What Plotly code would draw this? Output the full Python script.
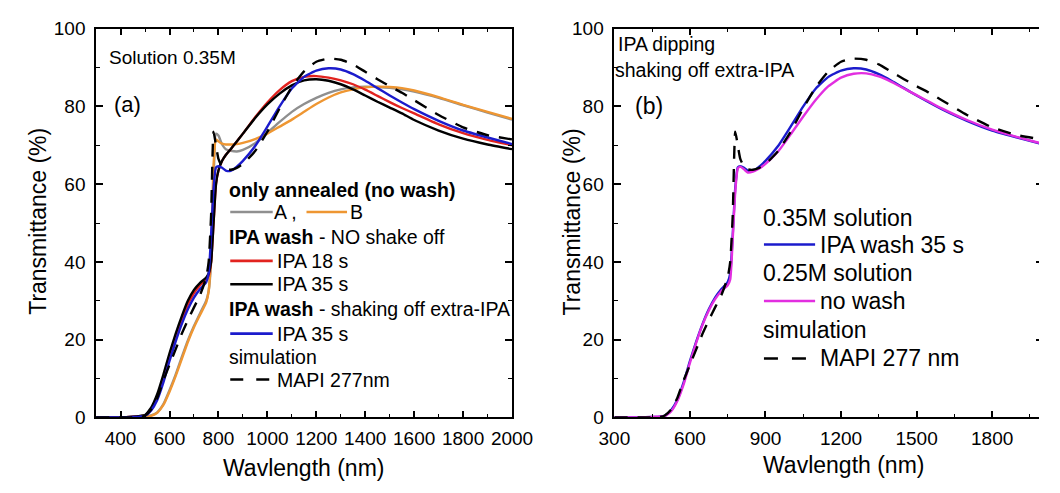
import plotly.graph_objects as go

# ---------------- data ----------------
wavelength = [300, 400, 450, 480, 500, 525, 550, 575, 600, 625, 650, 675, 700, 725, 750,
              760, 770, 780, 790, 800, 815, 830, 850, 875, 900, 950, 1000, 1050, 1100,
              1150, 1200, 1250, 1300, 1350, 1400, 1450, 1500, 1550, 1600, 1700, 1800,
              1900, 2000]

annealed_A = [0, 0, 0, 0.1, 0.2, 0.5, 1.3, 3.4, 7, 11, 15.5, 19.8, 23.5, 26.8, 30,
              32.5, 40, 60, 73, 72.5, 70.2, 69, 68.6, 68.4, 68.8, 70.5, 73.2, 76, 78.6,
              80.6, 82.2, 83.5, 84.4, 84.9, 85.1, 85, 84.8, 84.4, 83.8, 82.2, 80.3,
              78.4, 76.6]

annealed_B = [0, 0, 0, 0, 0.1, 0.4, 1.2, 3.2, 6.6, 10.6, 15, 19.4, 23.2, 26.4, 29.6,
              32.5, 42, 65, 71.5, 71, 70.4, 70.2, 70.2, 70.3, 70.6, 71.6, 73, 74.8, 76.6,
              78.6, 80.6, 82.3, 83.6, 84.4, 84.9, 85.1, 85, 84.7, 84.1, 82.4, 80.4,
              78.6, 76.8]

ipa18_noshake = [0, 0, 0.2, 0.3, 0.5, 2, 5.2, 10, 15.5, 20.5, 25, 29, 32, 34, 35.6,
                 36.5, 40, 50, 60, 63.5, 66, 67.5, 69, 71, 73, 77.2, 81, 84.2, 86.5,
                 87.6, 87.8, 87.4, 86.7, 85.7, 84.3, 82.7, 81.1, 79.6, 78.2, 75.4, 73.1,
                 71.4, 70]

ipa35_noshake = [0, 0, 0.2, 0.4, 0.6, 2.5, 6, 11, 16.5, 21.5, 26, 30, 32.8, 34.6, 36,
                 37, 40, 50, 60, 63.5, 66, 67.5, 69, 71, 73, 77, 80.5, 83.3, 85.4,
                 86.7, 87, 86.6, 85.7, 84.4, 82.8, 81.2, 79.7, 78.2, 76.5, 73.8, 71.7,
                 70.2, 69]

ipa35_shake = [0, 0, 0.1, 0.2, 0.4, 1.8, 4.5, 9, 14.5, 19.5, 24, 27.8, 30.8, 33, 34.8,
               37, 47, 59, 64.3, 64.6, 64.2, 63.5, 63.4, 64.5, 66, 69.8, 74.8, 80, 84.6,
               87.6, 89.2, 89.8, 89.5, 88.3, 86.6, 84.7, 82.8, 81, 79.3, 76.3, 73.8,
               72, 70.3]

nowash_025M = [0, 0, 0.1, 0.2, 0.3, 1.5, 4.2, 8.5, 14, 19.2, 23.8, 27.5, 30.4, 32.5, 34,
               35.5, 46, 58, 64, 64.5, 63.8, 63, 63.2, 64, 65.2, 68.4, 72.8, 77.4, 81.7,
               85.2, 87.4, 88.4, 88.5, 87.7, 86.3, 84.6, 82.9, 81.2, 79.5, 76.5, 74,
               72.1, 70.4]

sim_mapi_277 = [0, 0, 0, 0.1, 0.5, 2, 5, 9.5, 13.5, 17.5, 21.5, 25, 28.3, 31.5, 36,
                40, 52, 73.5, 70, 66.5, 64.5, 63.8, 63.7, 64.2, 65.2, 68.5, 73.5, 79.5, 85,
                89, 91.5, 92.3, 92, 90.8, 88.9, 87, 85.2, 83.5, 81.6, 77.8, 74.6,
                72.6, 71.5]

x_ticks_a = [400, 600, 800, 1000, 1200, 1400, 1600, 1800, 2000]
x_ticks_b = [300, 600, 900, 1200, 1500, 1800]
y_ticks = [0, 20, 40, 60, 80, 100]

# ---------------- styles ----------------
W, H = 1060, 493
FONT = "Liberation Sans, Arial, sans-serif"
C_GRAY = "#8f8f8f"
C_ORANGE = "#ee9632"
C_RED = "#e2231f"
C_BLACK = "#000000"
C_BLUE = "#1b1bcc"
C_MAG = "#e22ee0"
LW = 2.4
DASH = "13px,10px"


def px(x):
    return x / W


def py(y):
    return 1 - y / H


fig = go.Figure()


def add(xa, ya, yvals, color, dash="solid"):
    fig.add_trace(go.Scatter(x=wavelength, y=yvals, xaxis=xa, yaxis=ya, mode="lines",
                             line=dict(color=color, width=LW, dash=dash, shape="spline",
                                       smoothing=0.5),
                             showlegend=False, hoverinfo="skip"))


# panel (a)
add("x", "y", annealed_A, C_GRAY)
add("x", "y", annealed_B, C_ORANGE)
add("x", "y", ipa18_noshake, C_RED)
add("x", "y", ipa35_noshake, C_BLACK)
add("x", "y", ipa35_shake, C_BLUE)
add("x", "y", sim_mapi_277, C_BLACK, DASH)
# panel (b)
add("x2", "y2", ipa35_shake, C_BLUE)
add("x2", "y2", nowash_025M, C_MAG)
add("x2", "y2", sim_mapi_277, C_BLACK, DASH)
# dummy for right-edge tick stubs of panel (b)
fig.add_trace(go.Scatter(x=[None], y=[None], xaxis="x2", yaxis="y3", showlegend=False,
                         hoverinfo="skip"))

ydom = [py(425.5), py(19.5)]
axis_common = dict(showline=True, linecolor="black", linewidth=1.6, ticks="inside",
                   ticklen=7, tickwidth=1.6, tickcolor="black", showgrid=False,
                   zeroline=False, tickfont=dict(family=FONT, size=19, color="black"))
minor = dict(ticks="inside", ticklen=4, tickwidth=1.4, tickcolor="black", showgrid=False)

fig.update_layout(
    width=W, height=H, margin=dict(l=0, r=0, t=0, b=0),
    paper_bgcolor="white", plot_bgcolor="white",
    xaxis=dict(domain=[px(83), px(514)], range=[300, 2000], tickvals=x_ticks_a,
               mirror="ticks", anchor="y", ticklabelstandoff=3,
               minor=dict(dtick=100, **minor), **axis_common),
    yaxis=dict(domain=ydom, range=[0, 100], tickvals=y_ticks, mirror="ticks",
               anchor="x", ticklabelstandoff=5,
               minor=dict(dtick=10, **minor), **axis_common),
    xaxis2=dict(domain=[px(620), 1.0], range=[300, 1986], tickvals=x_ticks_b,
                mirror="ticks", anchor="y2", ticklabelstandoff=3,
                minor=dict(dtick=150, **minor), **axis_common),
    yaxis2=dict(domain=ydom, range=[0, 100], tickvals=y_ticks, mirror=False,
                anchor="x2", ticklabelstandoff=5,
                minor=dict(dtick=10, **minor), **axis_common),
    yaxis3=dict(overlaying="y2", side="right", anchor="x2", range=[0, 100],
                tickvals=[20, 40, 60, 80], ticks="inside", ticklen=3, tickwidth=1.6,
                tickcolor="black", showticklabels=False, showline=False, showgrid=False,
                zeroline=False),
)

ann = []


def text(x, y, s, size=19, xanchor="left", angle=0):
    ann.append(dict(x=px(x), y=py(y), xref="paper", yref="paper", text=s,
                    showarrow=False, xanchor=xanchor, yanchor="middle", textangle=angle,
                    borderpad=0,
                    font=dict(family=FONT, size=size, color="black")))


def sample(x0, x1, y, color, dash="solid"):
    fig.add_shape(type="line", xref="paper", yref="paper", x0=px(x0), x1=px(x1),
                  y0=py(y), y1=py(y), line=dict(color=color, width=2.6, dash=dash))


# axis titles
text(22, 221, "Transmittance (%)", 23, "center", -90)
text(576, 221, "Transmittance (%)", 23, "center", -90)
text(298, 478, "Wavlength (nm)", 23, "center")
text(857, 475, "Wavlength (nm)", 23, "center")

# panel (a) labels
text(95, 50, "Solution 0.35M", 19)
text(100, 99, "(a)", 22)
text(220, 188, "<b>only annealed (no wash)</b>", 19.5)
sample(222, 266, 211, C_GRAY)
text(266, 211, "A ,", 19.5)
sample(301, 343, 211, C_ORANGE)
text(345, 211, "B", 19.5)
text(220, 237, "<b>IPA wash</b> - NO shake off", 19.5)
sample(222, 266, 262, C_RED)
text(269, 262, "IPA 18 s", 19.5)
sample(222, 266, 286.5, C_BLACK)
text(269, 286.5, "IPA 35 s", 19.5)
text(220, 312, "<b>IPA wash</b> - shaking off extra-IPA", 19.5)
sample(222, 266, 338, C_BLUE)
text(269, 338, "IPA 35 s", 19.5)
text(220, 362, "simulation", 19.5)
sample(222, 266, 386, C_BLACK, "13px,13px")
text(269, 386, "MAPI 277nm", 19.5)

# panel (b) labels
text(623, 35, "IPA dipping", 19.5)
text(620, 63, "shaking off extra-IPA", 19.5)
text(640, 100, "(b)", 23)
text(773, 217, "0.35M solution", 23)
sample(775, 828, 245, C_BLUE)
text(832, 245, "IPA wash 35 s", 23)
text(773, 275, "0.25M solution", 23)
sample(775, 828, 304, C_MAG)
text(832, 304, "no wash", 23)
text(773, 334, "simulation", 23)
sample(775, 828, 364, C_BLACK, "14px,14px")
text(832, 364, "MAPI 277 nm", 23)

fig.update_layout(annotations=ann)
fig.write_html("out.html")
